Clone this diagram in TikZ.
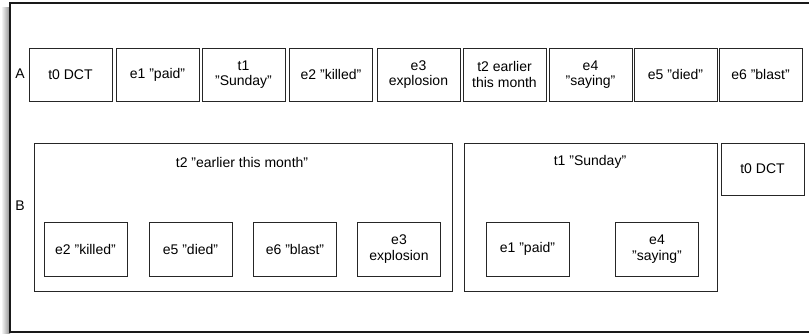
\documentclass[tikz,border=0pt]{standalone}
\usepackage{fontspec}
\setmainfont{Liberation Sans}
\begin{document}
\begin{tikzpicture}[x=1pt,y=-1pt,
  every node/.style={font=\fontsize{14}{15.5}\selectfont, inner sep=0pt},
  cell/.style={draw=black!85, line width=0.9pt, fill=white, minimum width=83pt, minimum height=53pt, align=center},
  group/.style={draw=black!85, line width=0.9pt, minimum height=148pt},
  lbl/.style={}]
\useasboundingbox (0,0) rectangle (809,334);
% shadow of the frame
\shade[left color=white, right color=black!45] (1,8) rectangle (10,334);
\draw[line width=1.3pt, black!90] (809,3) -- (10,3) -- (10,332) -- (809,332);
% row A
\node[lbl] (A) at (20,74) {A};
\node[cell] (a0) at (70.5,74.5) {t0 DCT};
\node[cell] (a1) at (157.5,74.5) {e1 "paid"};
\node[cell] (a2) at (243.5,74.5) {t1\\"Sunday"};
\node[cell] (a3) at (331,74.5) {e2 "killed"};
\node[cell] (a4) at (418.5,74.5) {e3\\explosion};
\node[cell] (a5) at (504.5,74.5) {t2 earlier\\this month};
\node[cell] (a6) at (590.5,74.5) {e4\\"saying"};
\node[cell] (a7) at (675.5,74.5) {e5 "died"};
\node[cell] (a8) at (760.5,74.5) {e6 "blast"};
% row B
\node[lbl] (B) at (20,206) {B};
\node[group, minimum width=418pt] (g2) at (243,217) {};
\node (g2t) at (242,162) {t2 "earlier this month"};
\node[cell, minimum height=54pt] (b2) at (85.5,249) {e2 "killed"};
\node[cell, minimum height=54pt] (b5) at (190.5,249) {e5 "died"};
\node[cell, minimum height=54pt] (b6) at (295,249) {e6 "blast"};
\node[cell, minimum height=54pt] (b3) at (399,249) {e3\\explosion};
\node[group, minimum width=253pt] (g1) at (590.5,217) {};
\node (g1t) at (590,162) {t1 "Sunday"};
\node[cell, minimum height=54pt] (b1) at (527.5,249) {e1 "paid"};
\node[cell, minimum height=54pt] (b4) at (657,249) {e4\\"saying"};
\node[cell, minimum height=52pt] (b0) at (762.5,169) {t0 DCT};
\end{tikzpicture}
\end{document}
